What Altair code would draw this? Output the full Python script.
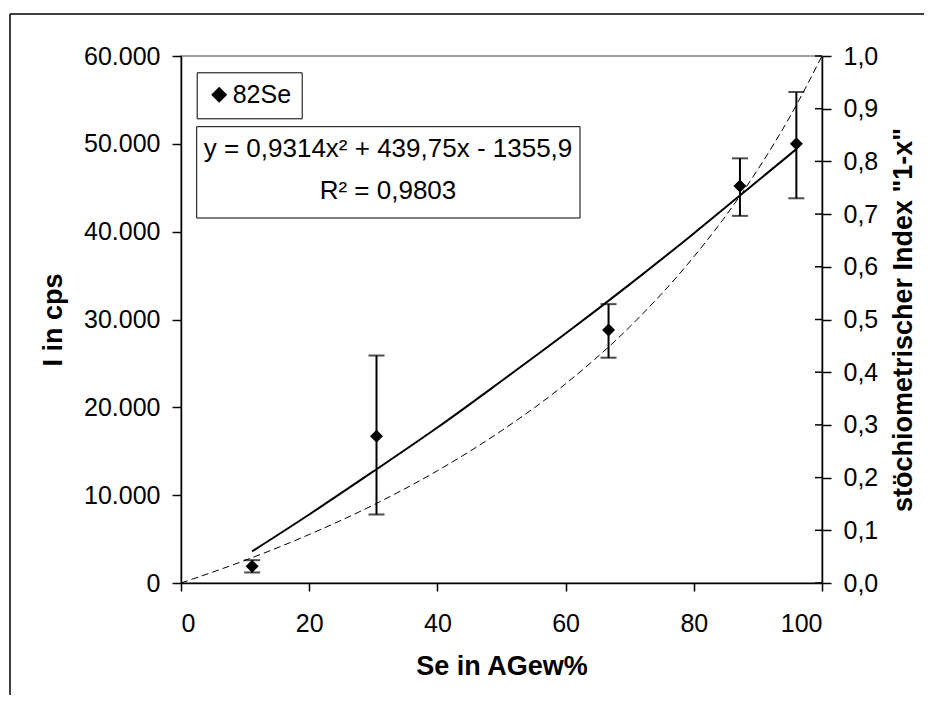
import altair as alt
import pandas as pd

# measured points (82Se)
x_se = [11.1, 30.5, 66.7, 87.2, 96.0]
i_cps = [1900, 16700, 28800, 45200, 50000]
err_lo = [1200, 7800, 25650, 41800, 43800]
err_hi = [2600, 25900, 31750, 48350, 55900]

# polynomial trend line
trend_x = [11.1, 20, 30, 40, 50, 60, 70, 80, 90, 96]
trend_y = [3600, 7800, 12700, 17700, 23000, 28400, 34000, 39800, 45800, 49400]

# stoichiometric index curve (right axis)
idx_x = [0, 10, 20, 30, 40, 50, 60, 70, 80, 85, 90, 95, 100]
idx_y = [0.0, 0.043, 0.092, 0.148, 0.213, 0.289, 0.378, 0.486, 0.619, 0.697, 0.785, 0.885, 1.0]

x_ticks = [0, 20, 40, 60, 80, 100]
y_ticks = [0, 10000, 20000, 30000, 40000, 50000, 60000]
r_ticks = [0.0, 0.1, 0.2, 0.3, 0.4, 0.5, 0.6, 0.7, 0.8, 0.9, 1.0]

eq_line1 = "y = 0,9314x² + 439,75x - 1355,9"
eq_line2 = "R² = 0,9803"
series_name = "82Se"

FONT = "Liberation Sans"
W, H = 641, 527

pts = pd.DataFrame({"x": x_se, "y": i_cps, "lo": err_lo, "hi": err_hi, "series": [series_name] * len(x_se)})
trend = pd.DataFrame({"x": trend_x, "y": trend_y})
idx = pd.DataFrame({"x": idx_x, "v": idx_y})
rt = pd.DataFrame({"v": r_ticks})
one = pd.DataFrame({"a": [0]})

xscale = alt.Scale(domain=[0, 100], nice=False, zero=False)
yscale = alt.Scale(domain=[0, 60000], nice=False)
rscale = alt.Scale(domain=[0, 1], nice=False)

xaxis = alt.Axis(values=x_ticks, title="Se in AGew%", tickSize=8, labelPadding=20,
                 titlePadding=17, grid=False)
yaxis = alt.Axis(values=y_ticks, title="I in cps", tickSize=9, labelPadding=12,
                 titlePadding=16, grid=False,
                 labelExpr="replace(format(datum.value, ','), ',', '.')")
raxis = alt.Axis(values=r_ticks, title='stöchiometrischer Index "1-x"', orient="right",
                 tickSize=9, labelPadding=12, titlePadding=13, titleAngle=270,
                 titleBaseline="top", grid=False,
                 labelExpr="replace(format(datum.value, '.1f'), '.', ',')")

X = alt.X("x:Q", scale=xscale, axis=xaxis)

err_rule = alt.Chart(pts).mark_rule(color="black", strokeWidth=2).encode(
    x=X, y=alt.Y("lo:Q", scale=yscale, axis=yaxis), y2="hi:Q")
cap_lo = alt.Chart(pts).mark_tick(color="black", size=16, thickness=2, orient="horizontal").encode(
    x=X, y=alt.Y("lo:Q", scale=yscale, axis=yaxis))
cap_hi = alt.Chart(pts).mark_tick(color="black", size=16, thickness=2, orient="horizontal").encode(
    x=X, y=alt.Y("hi:Q", scale=yscale, axis=yaxis))
trend_line = alt.Chart(trend).mark_line(color="black", strokeWidth=2, interpolate="monotone").encode(
    x=X, y=alt.Y("y:Q", scale=yscale, axis=yaxis))
points = alt.Chart(pts).mark_point(filled=True, color="black", opacity=1, size=169).encode(
    x=X, y=alt.Y("y:Q", scale=yscale, axis=yaxis),
    shape=alt.Shape("series:N", scale=alt.Scale(range=["diamond"]),
                    legend=alt.Legend(title=None, orient="none", legendX=15.7, legendY=16.3,
                                      strokeColor="black", padding=10, labelFontSize=25,
                                      labelFont=FONT, labelColor="black", symbolSize=256,
                                      symbolFillColor="black", symbolStrokeColor="black",
                                      symbolStrokeWidth=0, labelOffset=1)))

eq_box = alt.Chart(one).mark_rect(fill="white", stroke="black", strokeWidth=1).encode(
    x=alt.value(15.7), x2=alt.value(399), y=alt.value(70.7), y2=alt.value(162))
eq_t1 = alt.Chart(one).mark_text(font=FONT, fontSize=26, color="black", baseline="alphabetic",
                                 align="center").encode(
    x=alt.value(207), y=alt.value(101), text=alt.value(eq_line1))
eq_t2 = alt.Chart(one).mark_text(font=FONT, fontSize=26, color="black", baseline="alphabetic",
                                 align="center").encode(
    x=alt.value(207), y=alt.value(143), text=alt.value(eq_line2))

frame_left = alt.Chart(one).mark_rule(color="black", strokeWidth=1.5).encode(
    x=alt.value(-171), y=alt.value(-42), y2=alt.value(700))
frame_top = alt.Chart(one).mark_rule(color="black", strokeWidth=1.5).encode(
    x=alt.value(-171), x2=alt.value(780), y=alt.value(-42))

left = alt.layer(err_rule, cap_lo, cap_hi, trend_line, points, eq_box, eq_t1, eq_t2,
                 frame_left, frame_top)

dashed = alt.Chart(idx).mark_line(color="black", strokeWidth=1, strokeDash=[7, 4],
                                  interpolate="monotone").encode(
    x=X, y=alt.Y("v:Q", scale=rscale, axis=raxis))
inner_ticks = alt.Chart(rt).mark_rule(color="black", strokeWidth=1.5).encode(
    x=alt.value(W - 7), x2=alt.value(W), y=alt.Y("v:Q", scale=rscale, axis=raxis))

right = alt.layer(dashed, inner_ticks)

chart = alt.layer(left, right).resolve_scale(y="independent").properties(
    width=W, height=H,
    autosize=alt.AutoSizeParams(type="none"),
    padding={"left": 173, "top": 48, "right": 102, "bottom": 112},
    background="white",
).configure_view(stroke="#808080", strokeWidth=1.5).configure_axis(
    domainColor="black", domainWidth=1.5, tickColor="black", tickWidth=1.5,
    labelFont=FONT, labelFontSize=25, labelColor="black",
    titleFont=FONT, titleFontSize=27, titleFontWeight="bold", titleColor="black",
)

chart.save("out.html", embed_options={"renderer": "svg", "actions": False})
